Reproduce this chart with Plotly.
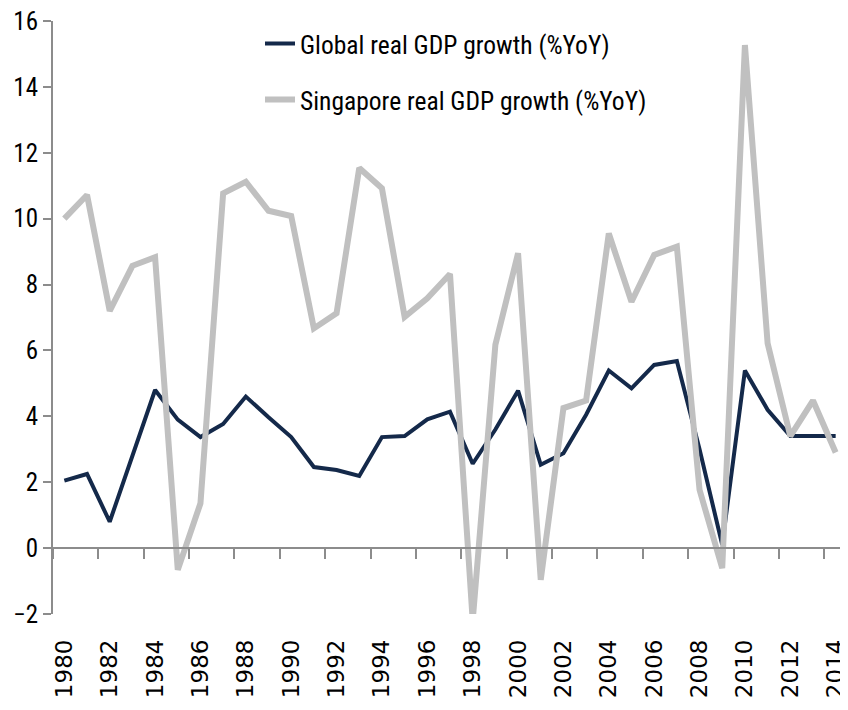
import plotly.graph_objects as go

years = list(range(1980, 2015))
global_gdp = [2.05, 2.25, 0.8, 2.8, 4.8, 3.9, 3.37, 3.77, 4.6, 3.97, 3.37,
              2.46, 2.37, 2.19, 3.37, 3.4, 3.91, 4.14, 2.56, 3.6, 4.78,
              2.53, 2.88, 4.05, 5.39, 4.85, 5.56, 5.68, 3.0, 0.1, 5.39,
              4.2, 3.4, 3.4, 3.4]
singapore_gdp = [10.0, 10.72, 7.2, 8.57, 8.83, -0.66, 1.36, 10.77, 11.12, 10.24, 10.08,
                 6.67, 7.13, 11.54, 10.92, 7.02, 7.58, 8.32, -2.2, 6.17, 8.95,
                 -0.96, 4.25, 4.48, 9.55, 7.48, 8.9, 9.15, 1.77, -0.61, 15.27,
                 6.22, 3.4, 4.48, 2.9]
tick_years = years[::2]
tick_labels = [str(y) for y in tick_years]

NARROW = "Liberation Sans Narrow, Arial Narrow, Roboto Condensed, sans-serif"
AXIS_GREY = "#8c8c8c"

fig = go.Figure()
fig.add_trace(go.Scatter(x=years, y=global_gdp, mode="lines",
                         name="Global real GDP growth (%YoY)",
                         line=dict(color="#14294a", width=4),
                         xaxis="x", yaxis="y", legend="legend"))
fig.add_trace(go.Scatter(x=years, y=singapore_gdp, mode="lines",
                         name="Singapore real GDP growth (%YoY)",
                         line=dict(color="#c0c0c0", width=6),
                         xaxis="x2", yaxis="y", legend="legend2"))

yr = [-2, 16]
xr = [years[0] - 0.5, years[-1] + 0.5]
fig.update_layout(
    width=848, height=710,
    margin=dict(l=45, r=9, t=13, b=104, autoexpand=False),
    paper_bgcolor="white", plot_bgcolor="white",
    xaxis=dict(range=xr, tickmode="array", tickvals=tick_years, ticktext=tick_labels,
               tickangle=-90, showline=False, ticks="", showgrid=False,
               ticklabelstandoff=20, ticklabeloverflow="allow",
               tickfont=dict(family="DejaVu Sans, Verdana, sans-serif", size=23, color="#000"),
               zeroline=False),
    xaxis2=dict(matches="x", overlaying="x", anchor="free",
                position=(0 - yr[0]) / (yr[1] - yr[0]),
                showline=True, linecolor=AXIS_GREY, linewidth=2,
                tickmode="linear", tick0=xr[0], dtick=2,
                ticks="outside", ticklen=10, tickwidth=2, tickcolor=AXIS_GREY,
                showticklabels=False, showgrid=False, zeroline=False),
    yaxis=dict(range=yr, dtick=2, tick0=0, showgrid=False, zeroline=False,
               showline=True, linecolor=AXIS_GREY, linewidth=2,
               ticks="outside", ticklen=8, tickwidth=2, tickcolor=AXIS_GREY,
               ticklabeloverflow="allow",
               tickfont=dict(family=NARROW, size=25, color="#000")),
    legend=dict(xref="container", yref="container", x=252 / 848, y=1 - 36 / 710,
                xanchor="left", yanchor="middle",
                bgcolor="rgba(0,0,0,0)",
                font=dict(family=NARROW, size=25.5, color="#000")),
    legend2=dict(xref="container", yref="container", x=252 / 848, y=1 - 92 / 710,
                 xanchor="left", yanchor="middle",
                 bgcolor="rgba(0,0,0,0)",
                 font=dict(family=NARROW, size=25.5, color="#000")),
    showlegend=True,
)

fig.write_html("out.html")
